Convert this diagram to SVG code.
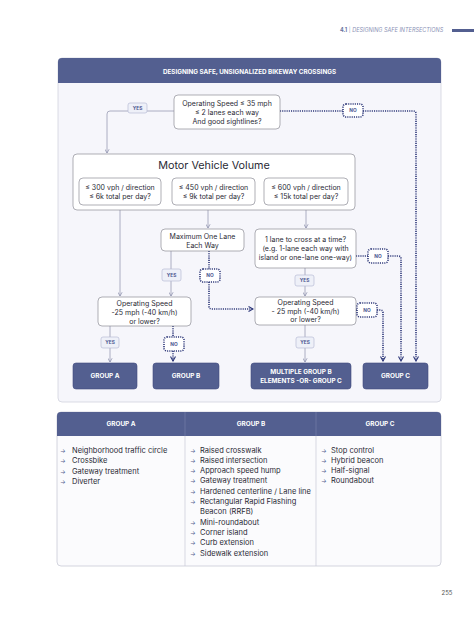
<svg xmlns="http://www.w3.org/2000/svg" width="474" height="618" viewBox="0 0 474 618">
<defs>
<style>
text{font-family:Inter,"Liberation Sans",Arial,sans-serif;}
.nb{fill:#ffffff;stroke:#8c8c96;stroke-width:0.7;}
.nt{font-size:7px;fill:#2a2a35;text-anchor:middle;}
.thin{fill:none;stroke:#9a9db5;stroke-width:0.8;}
.dot{fill:none;stroke:#2c3678;stroke-width:1.6;stroke-dasharray:1.1 1.1;}
.yes{fill:#eef0f8;stroke:#b7bcd6;stroke-width:0.7;}
.yt{font-size:4.8px;font-weight:700;fill:#4a5590;text-anchor:middle;}
.no{fill:#ffffff;stroke:#2c3678;stroke-width:1.6;stroke-dasharray:1.1 1.1;}
.grp{fill:#535f90;stroke:#3f4a7e;stroke-width:0.6;}
.gt{font-size:6.4px;font-weight:700;fill:#ffffff;text-anchor:middle;}
.li{font-size:7.5px;fill:#2a2a35;}
.ar{font-size:6px;fill:#535f90;}
</style>
<marker id="ta" viewBox="0 0 6 6" refX="5" refY="3" markerWidth="5" markerHeight="5" orient="auto" markerUnits="userSpaceOnUse"><path d="M0.5,0.5 L5,3 L0.5,5.5" fill="none" stroke="#8d91ad" stroke-width="0.9"/></marker>
<marker id="da" viewBox="0 0 6 6" refX="5" refY="3" markerWidth="6" markerHeight="6" orient="auto" markerUnits="userSpaceOnUse"><path d="M0.5,0.5 L5,3 L0.5,5.5" fill="none" stroke="#2c3678" stroke-width="1.1"/></marker>
</defs>

<g id="page-header">
<text x="340" y="31.5" font-size="5.5" fill="#6a74a0"><tspan font-weight="700">4.1</tspan><tspan fill="#9aa0c0"> | </tspan><tspan font-style="italic" fill="#8a91b5">DESIGNING SAFE INTERSECTIONS</tspan></text>
<rect x="452" y="29" width="22" height="3" fill="#535f90"/>
</g>

<g id="panel">
<rect x="58" y="58" width="383" height="344" rx="4" fill="#f6f6fb" stroke="#d2d3de" stroke-width="0.8"/>
<path d="M58,83 V62 A4,4 0 0 1 62,58 H437 A4,4 0 0 1 441,62 V83 Z" fill="#535f90"/>
<text x="249.5" y="74" font-size="6.3" font-weight="700" fill="#ffffff" text-anchor="middle">DESIGNING SAFE, UNSIGNALIZED BIKEWAY CROSSINGS</text>
</g>

<g id="connectors">
<path class="thin" d="M174,111 H147"/>
<path class="thin" d="M128,111 H110 Q107,111 107,114 V153" marker-end="url(#ta)"/>
<path class="dot" d="M280,111 H343"/>
<path class="dot" d="M363,111 H413 Q416,111 416,114 V361" marker-end="url(#da)"/>
<path class="thin" d="M120,205 V296" marker-end="url(#ta)"/>
<path class="thin" d="M208,205 V228" marker-end="url(#ta)"/>
<path class="thin" d="M306,205 V228" marker-end="url(#ta)"/>
<path class="thin" d="M171,251 V269"/>
<path class="thin" d="M171,281 V296" marker-end="url(#ta)"/>
<path class="dot" d="M209,251 V269"/>
<path class="dot" d="M209,282 V306 Q209,309 212,309 H253" marker-end="url(#da)"/>
<path class="thin" d="M305,268 V275"/>
<path class="thin" d="M305,286 V296" marker-end="url(#ta)"/>
<path class="dot" d="M356,256 H368"/>
<path class="dot" d="M388,256 H398 Q401,256 401,259 V361" marker-end="url(#da)"/>
<path class="dot" d="M356,310 H357"/>
<path class="dot" d="M377,310 H380 Q383,310 383,313 V361" marker-end="url(#da)"/>
<path class="thin" d="M110,326 V337"/>
<path class="thin" d="M110,348 V362" marker-end="url(#ta)"/>
<path class="dot" d="M173,326 V337"/>
<path class="dot" d="M173,351 V361" marker-end="url(#da)"/>
<path class="thin" d="M305,325 V337"/>
<path class="thin" d="M305,348 V362" marker-end="url(#ta)"/>
</g>

<g id="q-speed35">
<rect class="nb" x="174" y="95" width="106" height="34" rx="4"/>
<text class="nt" x="227" y="106">Operating Speed ≤ 35 mph</text>
<text class="nt" x="227" y="115">≤ 2 lanes each way</text>
<text class="nt" x="227" y="124">And good sightlines?</text>
</g>
<g id="yes-top"><rect class="yes" x="128" y="103" width="19" height="10" rx="2"/><text class="yt" x="137.5" y="109.8">YES</text></g>
<g id="no-top"><rect class="no" x="343" y="104" width="20" height="13" rx="3"/><text class="yt" x="353" y="112.4">NO</text></g>

<g id="mvv">
<rect class="nb" x="73" y="154" width="282" height="56" rx="4"/>
<text x="214" y="169" font-size="10.8" fill="#2a2a35" text-anchor="middle">Motor Vehicle Volume</text>
</g>
<g id="v300">
<rect class="nb" x="79" y="178" width="82" height="27" rx="4"/>
<text class="nt" x="120" y="190">≤ 300 vph / direction</text>
<text class="nt" x="120" y="199">≤ 6k total per day?</text>
</g>
<g id="v450">
<rect class="nb" x="172" y="178" width="83" height="27" rx="4"/>
<text class="nt" x="213.5" y="190">≤ 450 vph / direction</text>
<text class="nt" x="213.5" y="199">≤ 9k total per day?</text>
</g>
<g id="v600">
<rect class="nb" x="264" y="178" width="84" height="27" rx="4"/>
<text class="nt" x="306" y="190">≤ 600 vph / direction</text>
<text class="nt" x="306" y="199">≤ 15k total per day?</text>
</g>

<g id="max-one-lane">
<rect class="nb" x="161" y="229" width="83" height="22" rx="4"/>
<text class="nt" x="202.5" y="238.5">Maximum One Lane</text>
<text class="nt" x="202.5" y="247.5">Each Way</text>
</g>
<g id="one-lane-cross">
<rect class="nb" x="255" y="229" width="101" height="39" rx="4"/>
<text class="nt" x="305.5" y="241.5">1 lane to cross at a time?</text>
<text class="nt" x="305.5" y="250.5">(e.g. 1-lane each way with</text>
<text class="nt" x="305.5" y="259.5">island or one-lane one-way)</text>
</g>
<g id="yes-max"><rect class="yes" x="162" y="269" width="19" height="12" rx="2"/><text class="yt" x="171.5" y="276.8">YES</text></g>
<g id="no-max"><rect class="no" x="200" y="269" width="20" height="13" rx="3"/><text class="yt" x="210" y="277.4">NO</text></g>
<g id="yes-cross"><rect class="yes" x="295" y="275" width="19" height="11" rx="2"/><text class="yt" x="304.5" y="282.3">YES</text></g>
<g id="no-cross"><rect class="no" x="368" y="249" width="20" height="14" rx="3"/><text class="yt" x="378" y="257.8">NO</text></g>

<g id="speed25-left">
<rect class="nb" x="98" y="297" width="93" height="29" rx="4"/>
<text class="nt" x="144.5" y="305.5">Operating Speed</text>
<text class="nt" x="144.5" y="314.5">-25 mph (-40 km/h)</text>
<text class="nt" x="144.5" y="323.5">or lower?</text>
</g>
<g id="speed25-right">
<rect class="nb" x="255" y="297" width="101" height="28" rx="4"/>
<text class="nt" x="305.5" y="305">Operating Speed</text>
<text class="nt" x="305.5" y="313.5">- 25 mph (-40 km/h)</text>
<text class="nt" x="305.5" y="322">or lower?</text>
</g>
<g id="no-speed-right"><rect class="no" x="357" y="303" width="20" height="14" rx="3"/><text class="yt" x="367" y="311.8">NO</text></g>
<g id="yes-a"><rect class="yes" x="101" y="337" width="18" height="11" rx="2"/><text class="yt" x="110" y="344.3">YES</text></g>
<g id="no-b"><rect class="no" x="164" y="337" width="20" height="14" rx="3"/><text class="yt" x="174" y="345.8">NO</text></g>
<g id="yes-m"><rect class="yes" x="296" y="337" width="18" height="11" rx="2"/><text class="yt" x="305" y="344.3">YES</text></g>

<g id="group-a"><rect class="grp" x="73" y="363" width="64" height="26" rx="3"/><text class="gt" x="105" y="378.3">GROUP A</text></g>
<g id="group-b"><rect class="grp" x="153" y="363" width="66" height="26" rx="3"/><text class="gt" x="186" y="378.3">GROUP B</text></g>
<g id="group-multi"><rect class="grp" x="251" y="363" width="100" height="26" rx="3"/><text class="gt" x="301" y="374">MULTIPLE GROUP B</text><text class="gt" x="301" y="382.8">ELEMENTS -OR- GROUP C</text></g>
<g id="group-c"><rect class="grp" x="363" y="363" width="65" height="26" rx="3"/><text class="gt" x="395.5" y="378.3">GROUP C</text></g>

<g id="table">
<rect x="57" y="412" width="384" height="154" rx="4" fill="#fbfbfd" stroke="#c9cad6" stroke-width="0.8"/>
<path d="M57,436 V416 A4,4 0 0 1 61,412 H437 A4,4 0 0 1 441,416 V436 Z" fill="#535f90"/>
<line x1="185" y1="412" x2="185" y2="436" stroke="#7a84ad" stroke-width="0.6"/>
<line x1="316" y1="412" x2="316" y2="436" stroke="#7a84ad" stroke-width="0.6"/>
<line x1="185" y1="436" x2="185" y2="566" stroke="#c9cad6" stroke-width="0.7"/>
<line x1="316" y1="436" x2="316" y2="566" stroke="#c9cad6" stroke-width="0.7"/>
<text class="gt" x="121" y="426.3">GROUP A</text>
<text class="gt" x="251" y="426.3">GROUP B</text>
<text class="gt" x="380" y="426.3">GROUP C</text>
<g id="list-a">
<text class="ar" x="60" y="452.5">→</text><text class="li" x="72" y="452.5">Neighborhood traffic circle</text>
<text class="ar" x="60" y="463">→</text><text class="li" x="72" y="463">Crossbike</text>
<text class="ar" x="60" y="473.5">→</text><text class="li" x="72" y="473.5">Gateway treatment</text>
<text class="ar" x="60" y="484">→</text><text class="li" x="72" y="484">Diverter</text>
</g>
<g id="list-b">
<text class="ar" x="190" y="452.5">→</text><text class="li" x="200" y="452.5">Raised crosswalk</text>
<text class="ar" x="190" y="462.8">→</text><text class="li" x="200" y="462.8">Raised intersection</text>
<text class="ar" x="190" y="473.1">→</text><text class="li" x="200" y="473.1">Approach speed hump</text>
<text class="ar" x="190" y="483.4">→</text><text class="li" x="200" y="483.4">Gateway treatment</text>
<text class="ar" x="190" y="493.7">→</text><text class="li" x="200" y="493.7">Hardened centerline / Lane line</text>
<text class="ar" x="190" y="504">→</text><text class="li" x="200" y="504">Rectangular Rapid Flashing</text>
<text class="li" x="200" y="514.3">Beacon (RRFB)</text>
<text class="ar" x="190" y="524.6">→</text><text class="li" x="200" y="524.6">Mini-roundabout</text>
<text class="ar" x="190" y="534.9">→</text><text class="li" x="200" y="534.9">Corner island</text>
<text class="ar" x="190" y="545.2">→</text><text class="li" x="200" y="545.2">Curb extension</text>
<text class="ar" x="190" y="555.5">→</text><text class="li" x="200" y="555.5">Sidewalk extension</text>
</g>
<g id="list-c">
<text class="ar" x="321" y="452.5">→</text><text class="li" x="331" y="452.5">Stop control</text>
<text class="ar" x="321" y="462.8">→</text><text class="li" x="331" y="462.8">Hybrid beacon</text>
<text class="ar" x="321" y="473.1">→</text><text class="li" x="331" y="473.1">Half-signal</text>
<text class="ar" x="321" y="483.4">→</text><text class="li" x="331" y="483.4">Roundabout</text>
</g>
</g>

<text x="447" y="595" font-size="6" fill="#555" text-anchor="middle">255</text>
</svg>
